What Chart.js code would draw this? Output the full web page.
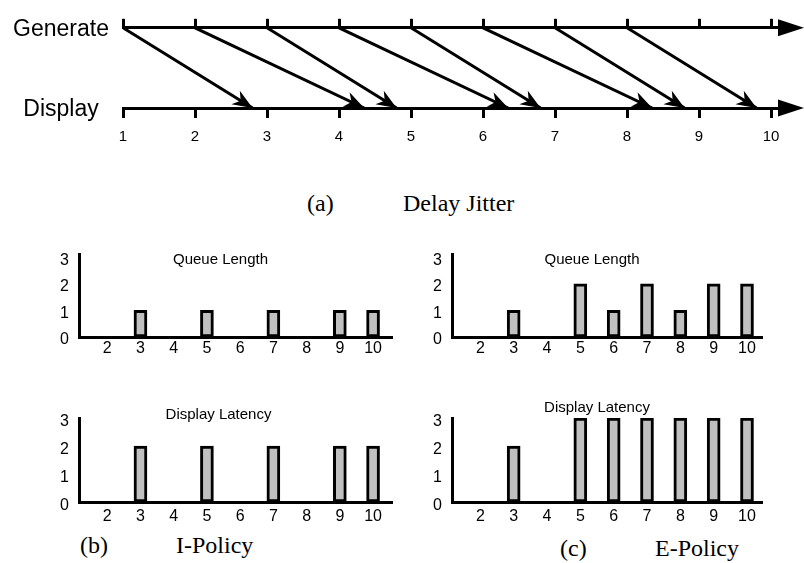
<!DOCTYPE html>
<html>
<head>
<meta charset="utf-8">
<script src="https://cdn.jsdelivr.net/npm/chart.js@4.4.1/dist/chart.umd.min.js"></script>
<style>
  html, body { margin: 0; padding: 0; background: #fff; }
  #page { position: relative; width: 804px; height: 563px; overflow: hidden; }
  canvas { position: absolute; }
  .cap { position: absolute; font-family: "Liberation Serif", "Times New Roman", serif;
         font-size: 24px; line-height: 24px; color: #000; white-space: nowrap; }
</style>
</head>
<body>
<div id="page">
  <canvas id="jitter" width="804" height="160" style="left:0;top:0"></canvas>
  <canvas id="qlI" width="402" height="130" style="left:0;top:235px"></canvas>
  <canvas id="qlE" width="402" height="130" style="left:402px;top:235px"></canvas>
  <canvas id="dlI" width="402" height="135" style="left:0;top:395px"></canvas>
  <canvas id="dlE" width="402" height="135" style="left:402px;top:395px"></canvas>
  <div class="cap" style="left:307px;top:191px">(a)</div>
  <div class="cap" style="left:403px;top:191px">Delay Jitter</div>
  <div class="cap" style="left:80px;top:533px">(b)</div>
  <div class="cap" style="left:176px;top:533px">I-Policy</div>
  <div class="cap" style="left:560px;top:536px">(c)</div>
  <div class="cap" style="left:655px;top:536px">E-Policy</div>
</div>
<script>
// (a) delay jitter: frame generated at genTimes[i] is displayed at dispTimes[i]
const timeTicks = [1, 2, 3, 4, 5, 6, 7, 8, 9, 10];
const genTimes = [1, 2, 3, 4, 5, 6, 7, 8];
const dispTimes = [2.8, 4.35, 4.8, 6.35, 6.8, 8.35, 8.8, 9.8];

// (b), (c) per time step
const steps = [1, 2, 3, 4, 5, 6, 7, 8, 9, 10];
const stepLabels = [2, 3, 4, 5, 6, 7, 8, 9, 10];
const countLabels = [0, 1, 2, 3];
const queueI = [0, 0, 1, 0, 1, 0, 1, 0, 1, 1];
const latencyI = [0, 0, 2, 0, 2, 0, 2, 0, 2, 2];
const queueE = [0, 0, 1, 0, 2, 1, 2, 1, 2, 2];
const latencyE = [0, 0, 2, 0, 3, 3, 3, 3, 3, 3];

const SANS = '"Liberation Sans", Arial, sans-serif';

function drawHead(ctx, x0, y0, x1, y1, len, half) {
  const ang = Math.atan2(y1 - y0, x1 - x0);
  ctx.save();
  ctx.translate(x1, y1);
  ctx.rotate(ang);
  ctx.beginPath();
  ctx.moveTo(0, 0);
  ctx.lineTo(-len, -half);
  ctx.lineTo(-len * 0.7, 0);
  ctx.lineTo(-len, half);
  ctx.closePath();
  ctx.fill();
  ctx.restore();
}

const arrowHeads = {
  id: 'arrowHeads',
  afterDatasetsDraw(chart) {
    const ctx = chart.ctx;
    ctx.save();
    ctx.fillStyle = '#000';
    chart.data.datasets.forEach((ds, i) => {
      const pts = chart.getDatasetMeta(i).data;
      const a = pts[0], b = pts[pts.length - 1];
      drawHead(ctx, a.x, a.y, b.x, b.y, 20, 8);
    });
    // big heads at the end of both time lines
    const { right, top, bottom } = chart.chartArea;
    [top, bottom].forEach(y => {
      ctx.beginPath();
      ctx.moveTo(right - 2, y - 8.5);
      ctx.lineTo(right + 24, y);
      ctx.lineTo(right - 2, y + 8.5);
      ctx.closePath();
      ctx.fill();
    });
    ctx.restore();
  }
};

const panelTitle = {
  id: 'panelTitle',
  afterDraw(chart, args, opts) {
    const { left, right, top } = chart.chartArea;
    const ctx = chart.ctx;
    ctx.save();
    ctx.font = '15px ' + SANS;
    ctx.fillStyle = '#000';
    ctx.textAlign = 'center';
    ctx.textBaseline = 'middle';
    ctx.fillText(opts.text, (left + right) / 2 + opts.dx, top + opts.dy);
    ctx.restore();
  }
};

// ---- (a) ----
const timeGrid = { display: true, drawOnChartArea: false, color: '#000', lineWidth: 3 };
const timeBorder = { display: true, color: '#000', width: 3 };

new Chart(document.getElementById('jitter'), {
  type: 'line',
  data: {
    datasets: genTimes.map((g, i) => ({
      data: [{ x: g, y: 1 }, { x: dispTimes[i], y: 0 }],
      borderColor: '#000',
      borderWidth: 3,
      pointRadius: 0,
      fill: false,
      tension: 0
    }))
  },
  options: {
    responsive: false,
    animation: false,
    events: [],
    layout: { padding: { top: 24, right: 24, left: 0, bottom: 0 } },
    plugins: { legend: { display: false }, tooltip: { enabled: false } },
    scales: {
      x: {
        type: 'linear', min: 1, max: 10.125,
        afterBuildTicks: s => { s.ticks = timeTicks.map(v => ({ value: v })); },
        afterFit: s => { s.height = 52; },
        grid: { ...timeGrid, tickLength: 10 },
        border: timeBorder,
        ticks: { autoSkip: false, maxRotation: 0, padding: 10, color: '#000', font: { family: SANS, size: 15 } }
      },
      x2: {
        type: 'linear', position: 'top', min: 1, max: 10.125,
        afterBuildTicks: s => { s.ticks = timeTicks.map(v => ({ value: v })); },
        afterFit: s => { s.height = 0; },
        grid: { ...timeGrid, tickLength: 9 },
        border: timeBorder,
        ticks: { display: false }
      },
      y: {
        min: 0, max: 1,
        afterBuildTicks: s => { s.ticks = [{ value: 0 }, { value: 1 }]; },
        afterFit: s => { s.width = 123; },
        grid: { display: false, drawTicks: false },
        border: { display: false },
        ticks: {
          callback: v => (v === 1 ? 'Generate' : 'Display'),
          crossAlign: 'center', padding: 14, labelOffset: 2,
          color: '#000', font: { family: SANS, size: 23 }
        }
      }
    }
  },
  plugins: [arrowHeads]
});

// ---- (b), (c) ----
function panel(id, values, o) {
  new Chart(document.getElementById(id), {
    type: 'bar',
    data: {
      datasets: [{
        data: steps.map((s, i) => ({ x: s, y: values[i] })),
        backgroundColor: '#c0c0c0',
        borderColor: '#000',
        borderWidth: 3,
        borderSkipped: false,
        barThickness: 13
      }]
    },
    options: {
      responsive: false,
      animation: false,
      events: [],
      layout: { padding: { top: o.padTop, right: o.padRight, left: 0, bottom: 0 } },
      plugins: {
        legend: { display: false },
        tooltip: { enabled: false },
        panelTitle: { text: o.title, dx: o.dx, dy: o.dy }
      },
      scales: {
        x: {
          type: 'linear', min: 1.15, max: o.xMax, offset: false,
          afterBuildTicks: s => { s.ticks = stepLabels.map(v => ({ value: v })); },
          afterFit: s => { s.height = o.xHeight; },
          grid: { display: false, drawTicks: false },
          border: { display: true, color: '#000', width: 3 },
          ticks: { autoSkip: false, maxRotation: 0, padding: o.xPad, color: '#000', font: { family: SANS, size: 16 } }
        },
        y: {
          min: 0, max: o.yMax,
          afterBuildTicks: s => { s.ticks = countLabels.map(v => ({ value: v })); },
          afterFit: s => { s.width = o.yWidth; },
          grid: { display: false, drawTicks: false },
          border: { display: true, color: '#000', width: 3 },
          ticks: { padding: 10, labelOffset: o.yOff, color: '#000', font: { family: SANS, size: 16 } }
        }
      }
    },
    plugins: [panelTitle]
  });
}

panel('qlI', queueI, { title: 'Queue Length', dx: -15, dy: 5, padTop: 15, padRight: 10, xHeight: 28, yWidth: 79, xMax: 10.57, yMax: 3.1, xPad: 2, yOff: 3 });
panel('qlE', queueE, { title: 'Queue Length', dx: -15, dy: 5, padTop: 15, padRight: 42, xHeight: 28, yWidth: 50, xMax: 10.45, yMax: 3.1, xPad: 2, yOff: 3 });
panel('dlI', latencyI, { title: 'Display Latency', dx: -17, dy: -3, padTop: 23, padRight: 10, xHeight: 28, yWidth: 79, xMax: 10.57, yMax: 3.0, xPad: 5, yOff: 4 });
panel('dlE', latencyE, { title: 'Display Latency', dx: -10, dy: -10, padTop: 23, padRight: 42, xHeight: 28, yWidth: 50, xMax: 10.45, yMax: 3.0, xPad: 5, yOff: 4 });
</script>
</body>
</html>
